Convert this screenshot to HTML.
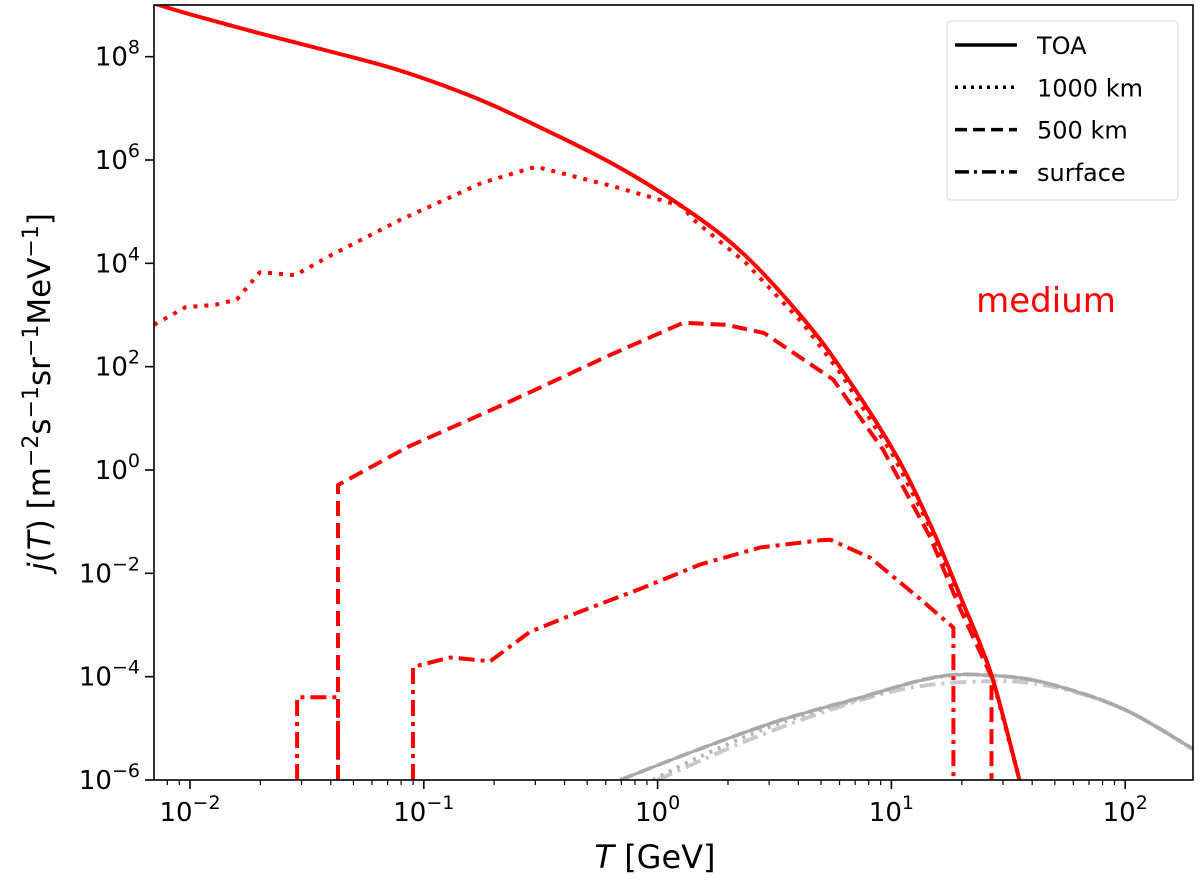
<!DOCTYPE html>
<html><head><meta charset="utf-8"><style>
body{margin:0;background:#fff;}
svg text{font-family:"DejaVu Sans","Liberation Sans",sans-serif;}
</style></head><body>
<svg id="chart" width="1200" height="886" xmlns="http://www.w3.org/2000/svg"></svg>
<script>
// data (log10 T [GeV], log10 j)
const toaLogT=[-2.154,-2,-1.7,-1.4,-1.101,-0.8,-0.562,-0.181,0.144,0.375,0.619,0.786,1.012,1.166,1.30,1.428,1.548];
const toaLogJ=[9.03,8.82,8.45,8.1,7.73,7.24,6.76,5.9,4.98,4.15,2.95,1.95,0.35,-1.05,-2.5,-3.97,-6.0];
const km1000LogT=[-2.154,-2.02,-1.89,-1.8,-1.70,-1.55,-1.40,-1.101,-0.75,-0.52,-0.181,0.109,0.144,0.375,0.619,0.786,1.012,1.166,1.30,1.428,1.548];
const km1000LogJ=[2.81,3.15,3.2,3.3,3.83,3.77,4.15,4.84,5.56,5.87,5.48,5.1,4.88,4.02,2.85,1.85,0.25,-1.12,-2.55,-3.97,-6.0];
const km500LogT=[-1.367,-1.367,-1.067,-0.708,-0.5,-0.216,0.109,0.294,0.456,0.751,0.965,1.166,1.295,1.428,1.428];
const km500LogJ=[-6,-0.29,0.45,1.17,1.6,2.2,2.85,2.81,2.65,1.75,0.39,-1.3,-2.7,-4.0,-6];
const surfLogT=[-1.542,-1.542,-1.367,-1.367,null,-1.046,-1.046,-0.887,-0.716,-0.545,-0.331,-0.074,0.182,0.439,0.696,0.74,0.910,1.124,1.265,1.265];
const surfLogJ=[-6,-4.4,-4.4,-6,null,-6,-3.81,-3.63,-3.7,-3.13,-2.74,-2.3,-1.83,-1.5,-1.36,-1.35,-1.7,-2.5,-3.05,-6];
const gTOALogT=[-0.16,0.18,0.52,0.87,1.1,1.25,1.4,1.64,1.98,2.29];
const gTOALogJ=[-6,-5.4,-4.85,-4.4,-4.1,-3.97,-3.97,-4.1,-4.6,-5.4];
const gSurfLogT=[0.0,0.35,0.7,1.04,1.34,1.64,1.98,2.29];
const gSurfLogJ=[-6,-5.3,-4.7,-4.25,-4.1,-4.15,-4.6,-5.4];
const gDotLogT=[-0.02,0.18,0.52,0.87,1.1,1.25,1.4,1.64,1.98,2.29];
const gDotLogJ=[-6,-5.55,-4.9,-4.42,-4.1,-3.98,-3.97,-4.1,-4.6,-5.4];
const xTickExp=[-2,-1,0,1,2];
const yTickExp=[-6,-4,-2,0,2,4,6,8];

const L=154,R=1193,T=5,B=780;
const xMin=-2.154,xMax=2.29,yMin=-6,yMax=9.0;
const X=v=>L+(v-xMin)/(xMax-xMin)*(R-L);
const Y=v=>B-(v-yMin)/(yMax-yMin)*(B-T);
const svg=document.getElementById('chart');
const NS='http://www.w3.org/2000/svg';
function mk(tag,attrs){const e=document.createElementNS(NS,tag);for(const k in attrs)e.setAttribute(k,attrs[k]);svg.appendChild(e);return e;}

const clip=document.createElementNS(NS,'clipPath');clip.setAttribute('id','pc');
const cr=document.createElementNS(NS,'rect');cr.setAttribute('x',L);cr.setAttribute('y',T);cr.setAttribute('width',R-L);cr.setAttribute('height',B-T);
clip.appendChild(cr);svg.appendChild(clip);

function path(xs,ys){let d='',pen=false;for(let i=0;i<xs.length;i++){if(xs[i]===null){pen=false;continue;}d+=(pen?'L':'M')+X(xs[i]).toFixed(1)+' '+Y(ys[i]).toFixed(1);pen=true;}return d;}
function smoothPath(xs,ys){
  const p=xs.map((v,i)=>[X(v),Y(ys[i])]);
  let d='M'+p[0][0].toFixed(1)+' '+p[0][1].toFixed(1);
  for(let i=0;i<p.length-1;i++){
    const p0=p[Math.max(0,i-1)],p1=p[i],p2=p[i+1],p3=p[Math.min(p.length-1,i+2)];
    const c1=[p1[0]+(p2[0]-p0[0])/6,p1[1]+(p2[1]-p0[1])/6];
    const c2=[p2[0]-(p3[0]-p1[0])/6,p2[1]-(p3[1]-p1[1])/6];
    d+='C'+c1[0].toFixed(1)+' '+c1[1].toFixed(1)+' '+c2[0].toFixed(1)+' '+c2[1].toFixed(1)+' '+p2[0].toFixed(1)+' '+p2[1].toFixed(1);
  }
  return d;
}
function series(xs,ys,color,dash,w,name,smooth){
  const p=mk('path',{d:smooth?smoothPath(xs,ys):path(xs,ys),fill:'none',stroke:color,'stroke-width':w,'stroke-dasharray':dash,'clip-path':'url(#pc)','stroke-linejoin':'round'});
  
  
}
series(gSurfLogT,gSurfLogJ,'#c8c8c8','16 6 3 6',4,'grey-surface-line',true);
series(gDotLogT,gDotLogJ,'#b4b4b4','3 6',4,'grey-1000km-line',true);
series(gTOALogT,gTOALogJ,'#bdbdbd','14 6',4,'grey-500km-line',true);
series(gTOALogT,gTOALogJ,'#a8a8a8','none',3,'grey-toa-line',true);
series(toaLogT,toaLogJ,'#ff0000','none',4,'toa-line',true);
series(km1000LogT,km1000LogJ,'#ff0000','4 7',4,'1000km-line',false);
series(km500LogT,km500LogJ,'#ff0000','15 7',4,'500km-line',false);
series(surfLogT,surfLogJ,'#ff0000','16 6 4 6',4,'surface-line',false);

const box=mk('rect',{x:L,y:T,width:R-L,height:B-T,fill:'none',stroke:'#000','stroke-width':1.6});


for(let e=-3;e<=2;e++){for(let m=1;m<10;m++){const v=e+Math.log10(m);if(v<xMin||v>xMax)continue;
  const len=m===1?9:5;mk('line',{x1:X(v),x2:X(v),y1:B,y2:B+len,stroke:'#000','stroke-width':m===1?1.6:1.2});}}
xTickExp.forEach(e=>{const t=mk('text',{x:X(e),y:B+41,'font-size':26,'text-anchor':'middle'});
  
  t.innerHTML='10<tspan dy="-12" font-size="19">'+(e<0?'−'+(-e):e)+'</tspan>';});
for(let e=-6;e<=9;e++){if(e>yMax||e%2!==0)continue;mk('line',{x1:L-9,x2:L,y1:Y(e),y2:Y(e),stroke:'#000','stroke-width':1.6});}
yTickExp.forEach(e=>{const t=mk('text',{x:L-14,y:Y(e)+9,'font-size':26,'text-anchor':'end'});
  
  t.innerHTML='10<tspan dy="-12" font-size="19">'+(e<0?'−'+(-e):e)+'</tspan>';});

const xl=mk('text',{x:655,y:868,'font-size':32,'text-anchor':'middle'});

xl.innerHTML='<tspan font-style="italic">T</tspan> [GeV]';
const yl=mk('text',{x:0,y:0,'font-size':31,'text-anchor':'middle',transform:'translate(50,392) rotate(-90)'});

yl.innerHTML='<tspan font-style="italic">j</tspan>(<tspan font-style="italic">T</tspan>) [m<tspan dy="-12" font-size="22">−2</tspan><tspan dy="12">s</tspan><tspan dy="-12" font-size="22">−1</tspan><tspan dy="12">sr</tspan><tspan dy="-12" font-size="22">−1</tspan><tspan dy="12">MeV</tspan><tspan dy="-12" font-size="22">−1</tspan><tspan dy="12">]</tspan>';
const md=mk('text',{x:1046,y:312,'font-size':34,'text-anchor':'middle',fill:'#ff0000'});
md.textContent='medium';

const lg=mk('rect',{x:947,y:21,width:231,height:179,rx:4,fill:'#fff',stroke:'#ddd','stroke-width':1.2});

const legNames=['TOA','1000 km','500 km','surface'];
const legDash=['none','3 5','12 6','14 5 3 5'];
legNames.forEach((n,i)=>{const y=45+i*42.3;
  const l=mk('line',{x1:955,x2:1017,y1:y,y2:y,stroke:'#000','stroke-width':3.5,'stroke-dasharray':legDash[i]});
  
  const t=mk('text',{x:1037,y:y+9,'font-size':24});
  t.textContent=n;});
</script>
</body></html>
